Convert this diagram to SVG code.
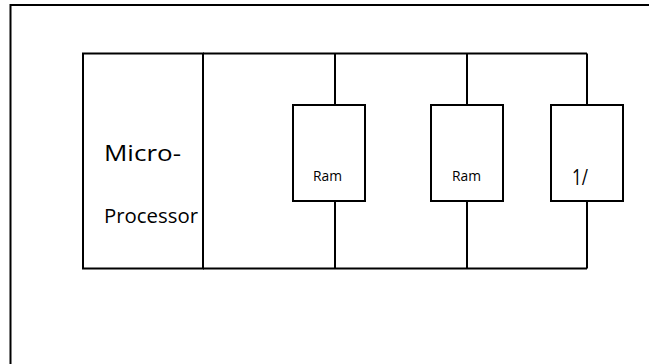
<svg xmlns="http://www.w3.org/2000/svg" width="649" height="364" viewBox="0 0 649 364">
<style>
  .ln { fill: none; stroke: #000; stroke-width: 2; }
  .box { fill: #fff; stroke: #000; stroke-width: 2; }
  .t { font-family: "Open Sans", "Liberation Sans", sans-serif; fill: #000; }
</style>
<rect width="649" height="364" fill="#fff"/>
<path class="ln" d="M10.5 364 V5 H649"/>
<g id="connectors">
  <path class="ln" d="M203 53.5 H587 M203 268.5 H587"/>
  <path class="ln" d="M335 53.5 V105 M335 201 V268.5"/>
  <path class="ln" d="M467 53.5 V105 M467 201 V268.5"/>
  <path class="ln" d="M587 53.5 V105 M587 201 V268.5"/>
</g>
<g id="microprocessor">
  <rect class="box" x="83" y="53.5" width="120" height="215"/>
  <text class="t" x="104" y="161" font-size="22" textLength="77" lengthAdjust="spacingAndGlyphs">Micro-</text>
  <text class="t" x="104" y="223" font-size="19.5" textLength="94" lengthAdjust="spacingAndGlyphs">Processor</text>
</g>
<g id="ram1">
  <rect class="box" x="293" y="105" width="72" height="96"/>
  <text class="t" x="313" y="181" font-size="14" textLength="29" lengthAdjust="spacingAndGlyphs">Ram</text>
</g>
<g id="ram2">
  <rect class="box" x="431" y="105" width="72" height="96"/>
  <text class="t" x="452" y="181" font-size="14" textLength="29" lengthAdjust="spacingAndGlyphs">Ram</text>
</g>
<g id="io">
  <rect class="box" x="551" y="105" width="72" height="96"/>
  <text class="t" x="572" y="185" font-size="21" textLength="16" lengthAdjust="spacingAndGlyphs">1/</text>
</g>
</svg>
